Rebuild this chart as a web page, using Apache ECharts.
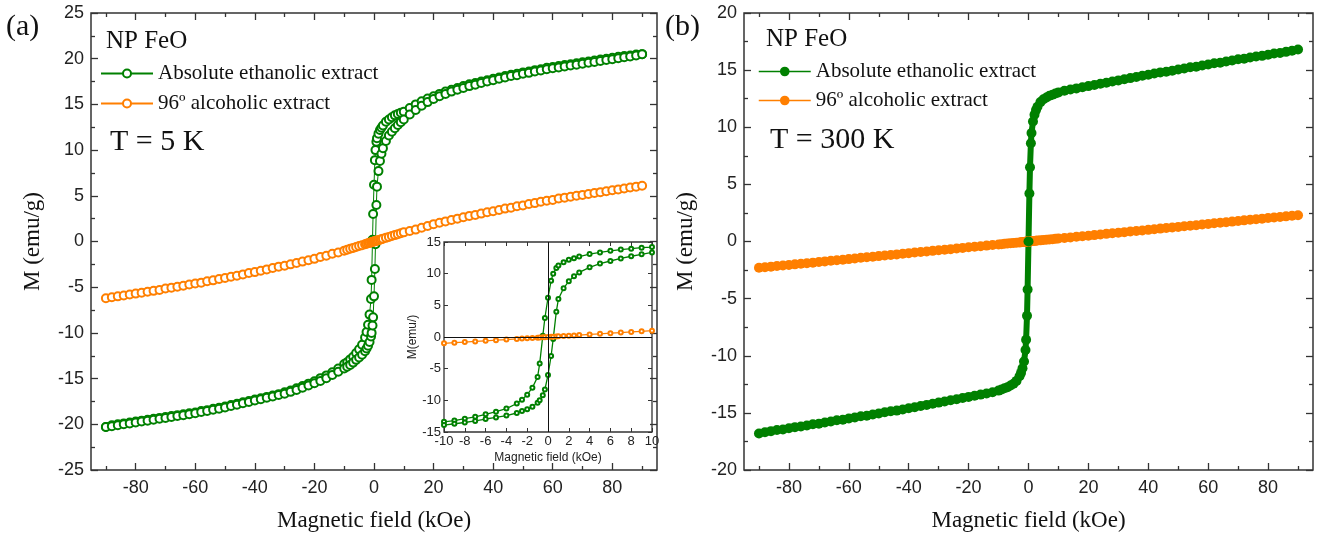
<!DOCTYPE html>
<html>
<head>
<meta charset="utf-8">
<script src="https://cdn.jsdelivr.net/npm/echarts@6/dist/echarts.min.js"></script>
<style>
  html, body { margin: 0; padding: 0; background: #fff; }
  #chart { width: 1318px; height: 537px; }
</style>
</head>
<body>
<div id="chart"></div>
<script>
// field points shared by every curve (kOe)
const fieldKOe = [
  -90, -88, -86, -84, -82, -80, -78, -76, -74, -72, -70, -68, -66, -64, -62, -60, -58, -56, -54, -52,
  -50, -48, -46, -44, -42, -40, -38, -36, -34, -32, -30, -28, -26, -24, -22, -20, -18, -16, -14, -12,
  -10, -9, -8, -7, -6, -5, -4, -3, -2.5, -2, -1.5, -1, -0.8, -0.5, -0.3, 0, 0.3, 0.5, 0.8, 1, 1.5, 2, 2.5, 3, 4, 5, 6, 7, 8, 9, 10,
  12, 14, 16, 18, 20, 22, 24, 26, 28, 30, 32, 34, 36, 38, 40, 42, 44, 46, 48, 50,
  52, 54, 56, 58, 60, 62, 64, 66, 68, 70, 72, 74, 76, 78, 80, 82, 84, 86, 88, 90
]

// T = 5 K, absolute ethanolic extract: branch coming down from +90 kOe
const eth5Down = [
  -20.3, -20.1, -20.0, -19.9, -19.8, -19.7, -19.6, -19.5, -19.4, -19.3, -19.2, -19.1, -19.0, -18.9, -18.8, -18.7, -18.55, -18.45, -18.3, -18.2,
  -18.05, -17.9, -17.75, -17.6, -17.45, -17.3, -17.15, -17.0, -16.85, -16.7, -16.5, -16.3, -16.05, -15.8, -15.55, -15.3, -14.95, -14.65, -14.3, -13.9,
  -13.4, -13.2, -12.9, -12.6, -12.2, -11.8, -11.3, -10.5, -9.9, -9.1, -8.0, -6.3, -4.2, 0.2, 3.0, 6.2, 8.9, 10.0, 10.9, 11.3, 11.8, 12.2, 12.45, 12.7, 13.1, 13.35, 13.6, 13.8, 13.95, 14.1, 14.2,
  14.6, 15.0, 15.35, 15.65, 15.9, 16.15, 16.4, 16.6, 16.8, 17.0, 17.2, 17.35, 17.5, 17.65, 17.8, 17.95, 18.1, 18.25, 18.35, 18.5,
  18.6, 18.75, 18.85, 19.0, 19.1, 19.2, 19.3, 19.4, 19.5, 19.6, 19.7, 19.8, 19.9, 20.0, 20.1, 20.2, 20.3, 20.35, 20.45, 20.5
]
// branch going back up from -90 kOe
const eth5Up = [
  -20.3, -20.2, -20.1, -20.0, -19.9, -19.8, -19.7, -19.6, -19.5, -19.4, -19.3, -19.2, -19.1, -19.0, -18.9, -18.8, -18.65, -18.55, -18.4, -18.3,
  -18.15, -18.0, -17.85, -17.7, -17.55, -17.4, -17.25, -17.1, -16.95, -16.8, -16.65, -16.45, -16.25, -16.0, -15.75, -15.5, -15.25, -14.95, -14.6, -14.25,
  -13.9, -13.7, -13.5, -13.25, -12.95, -12.7, -12.4, -12.0, -11.7, -11.4, -11.0, -10.4, -10.0, -9.2, -8.3, -6.0, -3.0, -0.3, 4.0, 6.0, 7.7, 8.8, 9.6, 10.2, 11.0, 11.6, 12.0, 12.4, 12.75, 13.05, 13.35,
  13.9, 14.4, 14.85, 15.25, 15.6, 15.9, 16.15, 16.4, 16.6, 16.8, 17.0, 17.15, 17.35, 17.5, 17.65, 17.8, 17.95, 18.1, 18.2, 18.35,
  18.45, 18.6, 18.7, 18.85, 18.95, 19.05, 19.15, 19.25, 19.35, 19.45, 19.55, 19.65, 19.75, 19.85, 19.95, 20.05, 20.15, 20.25, 20.35, 20.5
]
// T = 5 K, 96º alcoholic extract
const alc5 = [
  -6.2, -6.1, -6.0, -5.9, -5.8, -5.7, -5.6, -5.5, -5.4, -5.3, -5.15, -5.05, -4.95, -4.85, -4.7, -4.6, -4.5, -4.35, -4.25, -4.1,
  -4.0, -3.85, -3.75, -3.6, -3.45, -3.35, -3.2, -3.05, -2.9, -2.75, -2.65, -2.5, -2.35, -2.2, -2.05, -1.9, -1.7, -1.55, -1.35, -1.2,
  -1.0, -0.9, -0.8, -0.7, -0.6, -0.5, -0.4, -0.3, -0.25, -0.2, -0.15, -0.1, -0.08, -0.05, -0.03, 0, 0.03, 0.05, 0.08, 0.1, 0.15, 0.2, 0.25, 0.3, 0.4, 0.5, 0.6, 0.7, 0.8, 0.9, 1.0,
  1.15, 1.3, 1.5, 1.7, 1.9, 2.05, 2.2, 2.35, 2.5, 2.65, 2.8, 2.9, 3.05, 3.2, 3.3, 3.45, 3.6, 3.7, 3.85, 3.95,
  4.1, 4.2, 4.35, 4.45, 4.55, 4.7, 4.8, 4.9, 5.0, 5.1, 5.2, 5.3, 5.4, 5.5, 5.6, 5.7, 5.8, 5.9, 6.0, 6.1
]
// T = 300 K, absolute ethanolic extract
const eth300 = [
  -16.8, -16.7, -16.6, -16.5, -16.45, -16.35, -16.25, -16.2, -16.1, -16.0, -15.95, -15.85, -15.75, -15.65, -15.6, -15.5, -15.4, -15.3, -15.25, -15.15,
  -15.05, -14.95, -14.85, -14.8, -14.7, -14.6, -14.5, -14.4, -14.3, -14.2, -14.1, -14.0, -13.9, -13.8, -13.7, -13.6, -13.5, -13.4, -13.3, -13.2,
  -13.05, -12.95, -12.85, -12.75, -12.6, -12.45, -12.2, -11.8, -11.5, -11.1, -10.5, -9.5, -8.6, -6.5, -4.2, 0, 4.2, 6.5, 8.6, 9.5, 10.5, 11.1, 11.5, 11.8, 12.2, 12.45, 12.6, 12.75, 12.85, 12.95, 13.05,
  13.2, 13.3, 13.4, 13.5, 13.6, 13.7, 13.8, 13.9, 14.0, 14.1, 14.2, 14.3, 14.4, 14.5, 14.6, 14.7, 14.8, 14.85, 14.95, 15.05,
  15.15, 15.25, 15.3, 15.4, 15.5, 15.6, 15.65, 15.75, 15.85, 15.95, 16.0, 16.1, 16.2, 16.25, 16.35, 16.45, 16.5, 16.6, 16.7, 16.8
]
// T = 300 K, 96º alcoholic extract
const alc300 = [
  -2.3, -2.25, -2.2, -2.15, -2.1, -2.05, -2.0, -1.95, -1.9, -1.85, -1.8, -1.74, -1.69, -1.64, -1.59, -1.54, -1.49, -1.43, -1.38, -1.33,
  -1.28, -1.23, -1.18, -1.13, -1.08, -1.02, -0.97, -0.92, -0.87, -0.82, -0.77, -0.72, -0.67, -0.61, -0.56, -0.51, -0.46, -0.41, -0.36, -0.31,
  -0.26, -0.23, -0.2, -0.18, -0.15, -0.13, -0.1, -0.08, -0.06, -0.05, -0.04, -0.03, -0.02, -0.01, -0.01, 0, 0.01, 0.01, 0.02, 0.03, 0.04, 0.05, 0.06, 0.08, 0.1, 0.13, 0.15, 0.18, 0.2, 0.23, 0.26,
  0.31, 0.36, 0.41, 0.46, 0.51, 0.56, 0.61, 0.67, 0.72, 0.77, 0.82, 0.87, 0.92, 0.97, 1.02, 1.08, 1.13, 1.18, 1.23, 1.28,
  1.33, 1.38, 1.43, 1.49, 1.54, 1.59, 1.64, 1.69, 1.74, 1.8, 1.85, 1.9, 1.95, 2.0, 2.05, 2.1, 2.15, 2.2, 2.25, 2.3
]

const majorField = [-80, -60, -40, -20, 0, 20, 40, 60, 80]
const minorField = [-90, -70, -50, -30, -10, 10, 30, 50, 70, 90]
const legendLabels = {
  eth5: 'Absolute ethanolic extract',
  alc5: '96º alcoholic extract',
  eth300: 'Absolute ethanolic extract',
  alc300: '96º alcoholic extract'
}

const green = '#008000'
const orange = '#ff7f00'
const frame = '#333'
const serif = 'Liberation Serif'
const sans = 'Liberation Sans'

const pairs = vals => fieldKOe.map((h, i) => [h, vals[i]])

function fieldAxis(grid, position, ticks, major) {
  const bottomLabels = major && position === 'bottom'
  return {
    type: 'value',
    gridIndex: grid,
    position: position,
    min: -95,
    max: 95,
    name: bottomLabels ? 'Magnetic field (kOe)' : '',
    nameLocation: 'middle',
    nameGap: 39,
    nameTextStyle: { fontFamily: serif, fontSize: 23, color: '#111' },
    axisLine: { show: false, onZero: false },
    axisTick: { inside: true, length: major ? 7 : 4, customValues: ticks, lineStyle: { color: frame, width: 1.3 } },
    axisLabel: { show: bottomLabels, customValues: ticks, margin: 9, fontFamily: sans, fontSize: 18, color: '#222' },
    splitLine: { show: false }
  }
}

function momentAxis(grid, position, lim) {
  const left = position === 'left'
  return {
    type: 'value',
    gridIndex: grid,
    position: position,
    min: -lim,
    max: lim,
    interval: 5,
    name: left ? 'M (emu/g)' : '',
    nameLocation: 'middle',
    nameGap: 47,
    nameTextStyle: { fontFamily: serif, fontSize: 23, color: '#111' },
    axisLine: { show: false, onZero: false },
    axisTick: { inside: true, length: 7, lineStyle: { color: frame, width: 1.3 } },
    minorTick: { show: true, splitNumber: 2, length: 4, lineStyle: { color: frame, width: 1.3 } },
    axisLabel: { show: left, margin: 7, fontFamily: sans, fontSize: 18, color: '#222' },
    splitLine: { show: false },
    minorSplitLine: { show: false }
  }
}

function insetAxis(dim, position) {
  const labelled = position === 'bottom' || position === 'left'
  const isX = dim === 'x'
  return {
    type: 'value',
    gridIndex: 2,
    position: position,
    min: isX ? -10 : -15,
    max: isX ? 10 : 15,
    interval: isX ? 2 : 5,
    name: labelled ? (isX ? 'Magnetic field (kOe)' : 'M(emu/)') : '',
    nameLocation: 'middle',
    nameGap: isX ? 20 : 15,
    nameTextStyle: { fontFamily: sans, fontSize: 12, color: '#222' },
    axisLine: { show: false, onZero: false },
    axisTick: { inside: true, length: 4, lineStyle: { color: frame } },
    axisLabel: { show: labelled, margin: 3, fontFamily: sans, fontSize: 13, color: '#222' },
    splitLine: { show: false }
  }
}

function curve(name, vals, xi, yi, color, symbol, size, lineWidth) {
  return {
    type: 'line',
    name: name,
    data: pairs(vals),
    xAxisIndex: xi,
    yAxisIndex: yi,
    symbol: symbol,
    symbolSize: size,
    showAllSymbol: true,
    lineStyle: { color: color, width: lineWidth },
    itemStyle: { color: color, borderWidth: 1.2 },
    emphasis: { disabled: true },
    silent: true
  }
}

const chart = echarts.init(document.getElementById('chart'))

const insetAlc = curve('alc5', alc5, 8, 4, orange, 'emptyCircle', 4, 1.3)
insetAlc.markLine = {
  silent: true,
  symbol: ['none', 'none'],
  label: { show: false },
  lineStyle: { color: '#111', width: 1, type: 'solid' },
  data: [{ xAxis: 0 }, { yAxis: 0 }]
}

const eth300Band = curve('eth300', eth300, 4, 2, green, 'circle', 10, 6)
const alc300Band = curve('alc300', alc300, 4, 2, orange, 'circle', 10, 6)

chart.setOption({
  animation: false,
  backgroundColor: '#fff',
  grid: [
    { left: 91, top: 13, width: 566, height: 458, show: true, borderColor: frame, borderWidth: 1.5 },
    { left: 744, top: 13, width: 569, height: 458, show: true, borderColor: frame, borderWidth: 1.5 },
    { left: 444, top: 242, width: 208, height: 190, show: true, backgroundColor: '#fff', borderColor: frame, borderWidth: 1.3 }
  ],
  xAxis: [
    fieldAxis(0, 'bottom', majorField, true),
    fieldAxis(0, 'bottom', minorField, false),
    fieldAxis(0, 'top', majorField, true),
    fieldAxis(0, 'top', minorField, false),
    fieldAxis(1, 'bottom', majorField, true),
    fieldAxis(1, 'bottom', minorField, false),
    fieldAxis(1, 'top', majorField, true),
    fieldAxis(1, 'top', minorField, false),
    insetAxis('x', 'bottom'),
    insetAxis('x', 'top')
  ],
  yAxis: [
    momentAxis(0, 'left', 25),
    momentAxis(0, 'right', 25),
    momentAxis(1, 'left', 20),
    momentAxis(1, 'right', 20),
    insetAxis('y', 'left'),
    insetAxis('y', 'right')
  ],
  legend: [
    {
      data: ['eth5', 'alc5'], left: 100, top: 63, orient: 'vertical', padding: 0,
      itemWidth: 52, itemHeight: 10, itemGap: 9, selectedMode: false,
      formatter: n => legendLabels[n],
      textStyle: { fontFamily: serif, fontSize: 21, color: '#111' }
    },
    {
      data: [
        { name: 'eth300', itemStyle: { color: green }, lineStyle: { width: 1.5 } },
        { name: 'alc300', itemStyle: { color: orange }, lineStyle: { width: 1.5 } }
      ],
      left: 758, top: 61, orient: 'vertical', padding: 0,
      itemWidth: 52, itemHeight: 12, itemGap: 8, selectedMode: false,
      formatter: n => legendLabels[n],
      textStyle: { fontFamily: serif, fontSize: 21, color: '#111' }
    }
  ],
  graphic: [
    { type: 'text', left: 6, top: 12, style: { text: '(a)', font: '30px "Liberation Serif"', fill: '#111' } },
    { type: 'text', left: 665, top: 12, style: { text: '(b)', font: '30px "Liberation Serif"', fill: '#111' } },
    { type: 'text', left: 106, top: 29, style: { text: 'NP FeO', font: '25px "Liberation Serif"', fill: '#111' } },
    { type: 'text', left: 766, top: 27, style: { text: 'NP FeO', font: '25px "Liberation Serif"', fill: '#111' } },
    { type: 'text', left: 110, top: 127, style: { text: 'T = 5 K', font: '30px "Liberation Serif"', fill: '#111' } },
    { type: 'text', left: 770, top: 125, style: { text: 'T = 300 K', font: '30px "Liberation Serif"', fill: '#111' } }
  ],
  series: [
    curve('eth5', eth5Down, 0, 0, green, 'emptyCircle', 8, 1),
    curve('eth5', eth5Up, 0, 0, green, 'emptyCircle', 8, 1),
    curve('alc5', alc5, 0, 0, orange, 'emptyCircle', 8, 1),
    alc300Band,
    eth300Band,
    curve('eth5', eth5Down, 8, 4, green, 'emptyCircle', 4, 1.3),
    curve('eth5', eth5Up, 8, 4, green, 'emptyCircle', 4, 1.3),
    insetAlc
  ]
})
</script>
</body>
</html>
